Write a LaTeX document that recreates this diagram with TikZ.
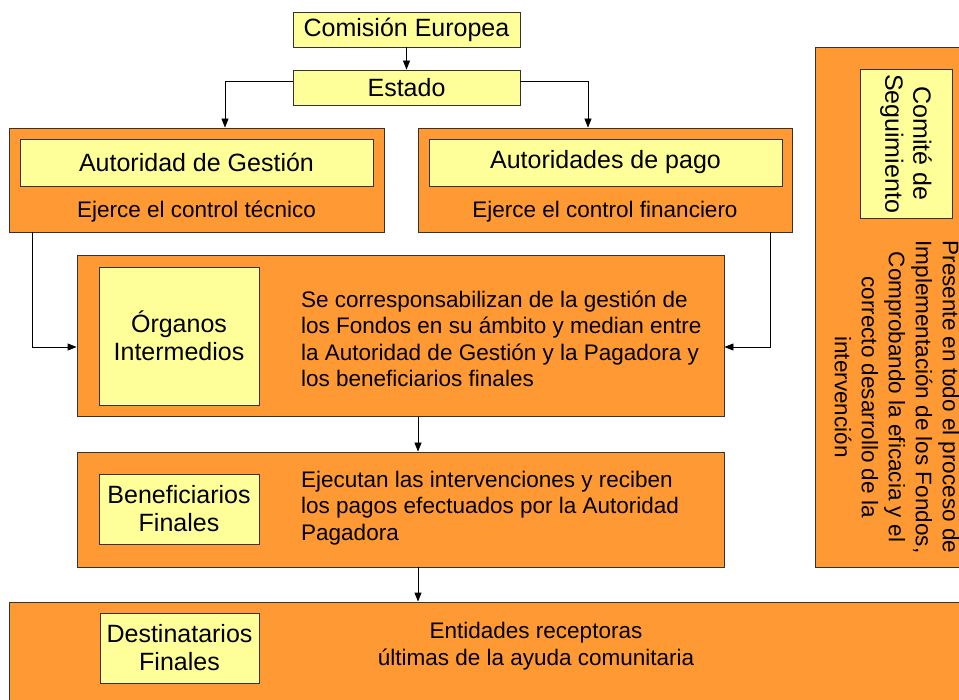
\documentclass[tikz,border=0pt]{standalone}
\usepackage{fontspec}
\setmainfont{Liberation Sans}
\usetikzlibrary{arrows.meta, positioning}
\definecolor{naranja}{HTML}{FF9933}
\definecolor{amarillo}{HTML}{FFFF99}
\tikzstyle{every node} = [font=\fontsize{25}{28}\selectfont, inner sep=0pt]
\tikzstyle{caja} = [draw=black!80, fill=naranja, line width=0.8pt]
\tikzstyle{etiqueta} = [draw=black!80, fill=amarillo, line width=0.8pt, align=center]
\tikzstyle{texto} = [font=\fontsize{22.5}{26.5}\selectfont]
\tikzstyle{flecha} = [line width=0.8pt, -{Triangle[length=9pt,width=7pt]}]

\begin{document}
\begin{tikzpicture}[x=1pt, y=-1pt]
        \useasboundingbox (0,0) rectangle (959,700);
        % cabecera
        \node[etiqueta, minimum width=227, minimum height=35] (comision) at (406.5,29.5) {Comisión Europea};
        \node[etiqueta, minimum width=227, minimum height=35] (estado) at (406.5,87.5) {Estado};
        % autoridades
        \node[caja, minimum width=375, minimum height=104] (gestion) at (196.5,180) {};
        \node[etiqueta, minimum width=353, minimum height=47] (gestionT) at (196.5,162.5) {Autoridad de Gestión};
        \node[texto] (gestionD) at (196.5,212) {Ejerce el control técnico};
        \node[caja, minimum width=374, minimum height=104] (pago) at (605,180) {};
        \node[etiqueta, minimum width=353, minimum height=47] (pagoT) at (605.5,162.5) {Autoridades de pago};
        \node[texto] (pagoD) at (605,212) {Ejerce el control financiero};
        % organos intermedios
        \node[caja, minimum width=647, minimum height=161] (organos) at (400.5,336) {};
        \node[etiqueta, minimum width=160, minimum height=138] (organosT) at (179,336) {Órganos\\Intermedios};
        \node[texto, anchor=west, align=left] (organosD) at (301,339)
            {Se corresponsabilizan de la gestión de\\los Fondos en su ámbito y median entre\\la Autoridad de Gestión y la Pagadora y\\los beneficiarios finales};
        % beneficiarios finales
        \node[caja, minimum width=647, minimum height=115] (benef) at (400.5,509.5) {};
        \node[etiqueta, minimum width=160, minimum height=70] (benefT) at (179,509) {Beneficiarios\\Finales};
        \node[texto, anchor=west, align=left] (benefD) at (301,508)
            {Ejecutan las intervenciones y reciben\\los pagos efectuados por la Autoridad\\Pagadora};
        % destinatarios finales
        \node[caja, minimum width=966, minimum height=113] (destin) at (492,658.5) {};
        \node[etiqueta, minimum width=159, minimum height=70] (destinT) at (179.5,648) {Destinatarios\\Finales};
        \node[texto, align=center] (destinD) at (536,646) {Entidades receptoras\\últimas de la ayuda comunitaria};
        % comite de seguimiento
        \node[caja, minimum width=160, minimum height=520] (comite) at (895,307) {};
        \node[etiqueta, rotate=-90, minimum width=149, minimum height=92] (comiteT) at (906,143.5) {Comité de\\Seguimiento};
        \node[texto, rotate=-90, align=center, font=\fontsize{22.5}{27}\selectfont] (comiteD) at (897,397)
            {Presente en todo el proceso de\\Implementación de los Fondos,\\Comprobando la eficacia y el\\correcto desarrollo de la\\intervención};
        % conexiones
        \draw[flecha] (comision) -- (estado);
        \draw[flecha] ([yshift=6pt]estado.west) -| ([xshift=28.5pt]gestion.north);
        \draw[flecha] ([yshift=6pt]estado.east) -| ([xshift=-17pt]pago.north);
        \draw[flecha] ([xshift=-164.5pt]gestion.south) |- ([yshift=-11pt]organos.west);
        \draw[flecha] ([xshift=165pt]pago.south) |- ([yshift=-11pt]organos.east);
        \draw[flecha] ([xshift=17.5pt]organos.south) -- ([xshift=17.5pt]benef.north);
        \draw[flecha] ([xshift=17.5pt]benef.south) -- ([xshift=17.5pt]benef.south |- destin.north);
\end{tikzpicture}
\end{document}
